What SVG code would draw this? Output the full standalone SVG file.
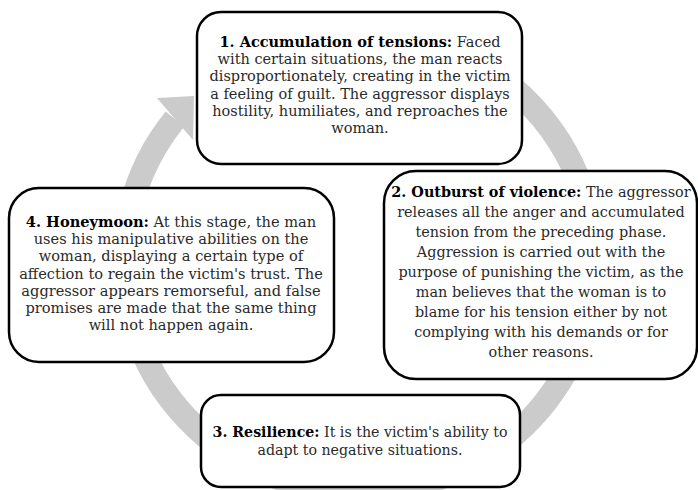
<svg xmlns="http://www.w3.org/2000/svg" width="698" height="490" viewBox="0 0 698 490">
<style>
.box{fill:#ffffff;stroke:#000000;stroke-width:2.5}
.t{font-family:"DejaVu Serif","Liberation Serif",serif;font-size:14.5px;fill:#2a2a2a;text-anchor:middle}
.t4{font-size:14.6px}
.t3{font-size:14.2px}
.t2{font-size:14.4px}
.b{font-weight:bold;fill:#000000}
.ring{fill:none;stroke:#cbcbcb;stroke-width:24}
</style>
<rect width="698" height="490" fill="#ffffff"/>
<g id="connectors">
<path class="ring" d="M 360 32 A 235 230 0 1 1 175 119"/>
<polygon points="157,98 194,96 193,140" fill="#cbcbcb"/>
</g>
<g id="node1">
<rect class="box" x="197" y="12" width="325" height="152" rx="24"/>
<text class="t" x="360" y="47"><tspan class="b">1. Accumulation of tensions:</tspan> Faced</text>
<text class="t" x="360" y="64">with certain situations, the man reacts</text>
<text class="t" x="360" y="81">disproportionately, creating in the victim</text>
<text class="t" x="360" y="99">a feeling of guilt. The aggressor displays</text>
<text class="t" x="360" y="116">hostility, humiliates, and reproaches the</text>
<text class="t" x="360" y="133">woman.</text>
</g>
<g id="node2">
<rect class="box" x="384" y="171" width="313" height="208" rx="32"/>
<text class="t t2" x="541" y="197"><tspan class="b">2. Outburst of violence:</tspan> The aggressor</text>
<text class="t t2" x="541" y="217">releases all the anger and accumulated</text>
<text class="t t2" x="541" y="237">tension from the preceding phase.</text>
<text class="t t2" x="541" y="257">Aggression is carried out with the</text>
<text class="t t2" x="541" y="277">purpose of punishing the victim, as the</text>
<text class="t t2" x="541" y="297">man believes that the woman is to</text>
<text class="t t2" x="541" y="317">blame for his tension either by not</text>
<text class="t t2" x="541" y="337">complying with his demands or for</text>
<text class="t t2" x="541" y="357">other reasons.</text>
</g>
<g id="node3">
<rect class="box" x="201" y="395" width="319" height="92" rx="20"/>
<text class="t t3" x="360" y="437"><tspan class="b">3. Resilience:</tspan> It is the victim's ability to</text>
<text class="t t3" x="360" y="455">adapt to negative situations.</text>
</g>
<g id="node4">
<rect class="box" x="9" y="188" width="325" height="174" rx="30"/>
<text class="t t4" x="171" y="227"><tspan class="b">4. Honeymoon:</tspan> At this stage, the man</text>
<text class="t t4" x="171" y="244">uses his manipulative abilities on the</text>
<text class="t t4" x="171" y="261">woman, displaying a certain type of</text>
<text class="t t4" x="171" y="279">affection to regain the victim's trust. The</text>
<text class="t t4" x="171" y="296">aggressor appears remorseful, and false</text>
<text class="t t4" x="171" y="313">promises are made that the same thing</text>
<text class="t t4" x="171" y="330">will not happen again.</text>
</g>
</svg>
